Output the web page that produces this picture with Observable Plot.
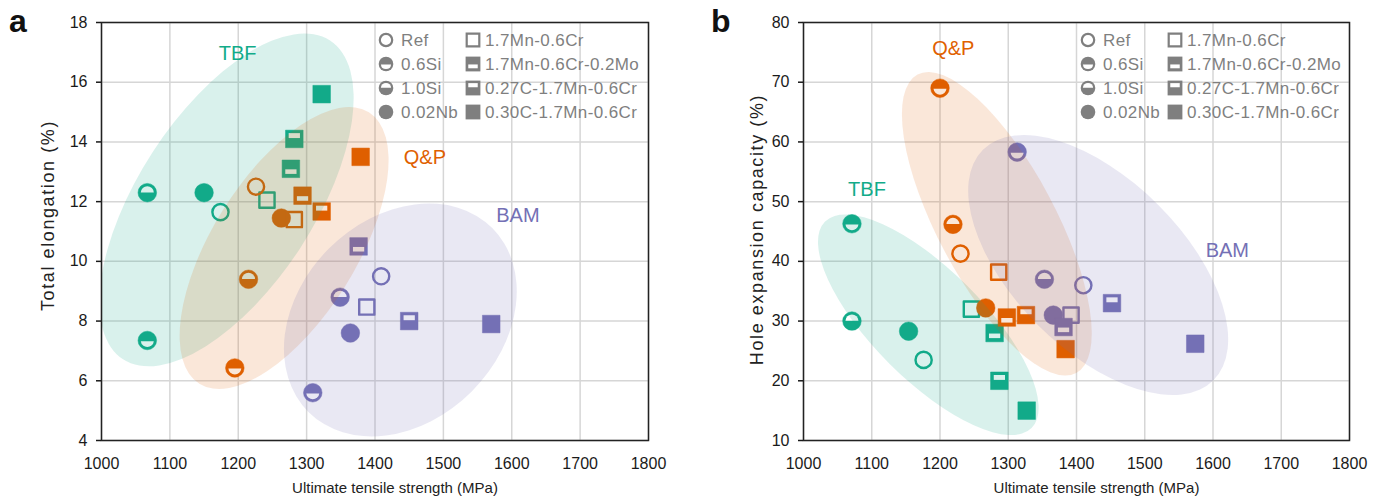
<!DOCTYPE html>
<html><head><meta charset="utf-8">
<script src="https://cdn.jsdelivr.net/npm/d3@7"></script>
<script src="https://cdn.jsdelivr.net/npm/@observablehq/plot@0.6"></script>
<style>
body{margin:0;background:#fff;font-family:"Liberation Sans",Arial,sans-serif;}
#wrap{position:relative;width:1387px;height:504px;display:flex;overflow:hidden;}
#overlay{position:absolute;left:0;top:0;pointer-events:none;}
</style></head><body><div id="wrap"></div>
<script>
// ---------- data ----------
const groups = ["TBF", "Q&P", "BAM"];
const groupColors = ["#12ab89", "#e06000", "#7470b5"];
const markerTypes = ["Ref", "0.6Si", "1.0Si", "0.02Nb", "1.7Mn-0.6Cr", "1.7Mn-0.6Cr-0.2Mo", "0.27C-1.7Mn-0.6Cr", "0.30C-1.7Mn-0.6Cr"];

// panel a: UTS (MPa) vs total elongation (%)
const tbfUtsA = [1174, 1067, 1067, 1150, 1242, 1277, 1282, 1322];
const tbfElA  = [11.65, 7.35, 12.3, 12.3, 12.05, 13.1, 14.1, 15.6];
const qpUtsA  = [1226, 1195, 1215, 1263, 1282, 1294, 1322, 1379];
const qpElA   = [12.5, 6.43, 9.4, 11.45, 11.4, 12.2, 11.67, 13.5];
const bamUtsA = [1409, 1309, 1349, 1364, 1388, 1376, 1450, 1570];
const bamElA  = [9.5, 5.6, 8.8, 7.6, 8.47, 10.5, 8.0, 7.9];

// panel b: UTS (MPa) vs hole expansion capacity (%)
const tbfUtsB = [1176, 1071, 1071, 1154, 1246, 1280, 1287, 1327];
const tbfHecB = [23.5, 46.3, 30, 28.3, 32, 28, 20, 15];
const qpUtsB  = [1230, 1200, 1219, 1267, 1286, 1298, 1326, 1384];
const qpHecB  = [41.3, 69, 46.2, 32.2, 38.2, 30.6, 31, 25.3];
const bamUtsB = [1410, 1313, 1353, 1366, 1392, 1381, 1452, 1574];
const bamHecB = [36, 58.3, 37, 31, 31, 29, 33, 26.2];

// group labels
const labelXA = [1199, 1473, 1609];
const labelYA = [16.96, 13.48, 11.54];
const labelXB = [1093, 1219.5, 1621];
const labelYB = [52, 75.6, 41.8];

// shaded group regions (centre in data units)
const regionCxA = [1183.6, 1267.8, 1437.8];
const regionCyA = [12.04, 10.43, 8.02];
const regionCxB = [1183.6, 1284, 1432.5];
const regionCyB = [29.3, 46.2, 39.3];

// axis ticks
const xTicks = d3.range(1000, 1801, 100);
const yTicksA = d3.range(4, 19, 2);
const yTicksB = d3.range(10, 81, 10);

// ---------- shapes / styles ----------
const regionShapeA = {rx: [190, 160, 130], ry: [88, 72, 101], rot: [-57, -58, -45]};
const regionShapeB = {rx: [146, 169, 163], ry: [55, 59, 85], rot: [45, 62, 45]};

const circSym = {draw(ctx, size) {const r = Math.sqrt(size / Math.PI); ctx.moveTo(r, 0); ctx.arc(0, 0, r, 0, 2 * Math.PI); ctx.closePath();}};
const sqSym = {draw(ctx, size) {const r = Math.sqrt(size / Math.PI); ctx.rect(-r, -r, 2 * r, 2 * r);}};
const circInsBottom = {draw(ctx, size) {const R = Math.sqrt(size / Math.PI), ri = R * 0.7, e = R * 0.07, a = Math.asin(e / ri);
  ctx.moveTo(ri * Math.cos(a), e); ctx.arc(0, 0, ri, a, Math.PI - a); ctx.closePath();}};
const circInsTop = {draw(ctx, size) {const R = Math.sqrt(size / Math.PI), ri = R * 0.7, e = R * 0.03, a = Math.asin(e / ri);
  ctx.moveTo(-ri * Math.cos(a), -e); ctx.arc(0, 0, ri, Math.PI + a, 2 * Math.PI - a); ctx.closePath();}};
const sqInsBottom = {draw(ctx, size) {const R = Math.sqrt(size / Math.PI); ctx.rect(-0.64 * R, 0.06 * R, 1.28 * R, 0.52 * R);}};
const sqInsTop = {draw(ctx, size) {const R = Math.sqrt(size / Math.PI); ctx.rect(-0.64 * R, -0.66 * R, 1.28 * R, 0.56 * R);}};

function styleOf(i) {
  const shape = i < 4 ? "circle" : "square";
  const k = i % 4;
  return {shape, ring: k === 0, insert: k === 1 ? "bottom" : k === 2 ? "top" : null};
}

function rows(uts, vals, group) {
  return markerTypes.map((type, i) => ({group, type, ti: i, x: uts[i], y: vals[i]}));
}
const dataA = [...rows(tbfUtsA, tbfElA, "TBF"), ...rows(qpUtsA, qpElA, "Q&P"), ...rows(bamUtsA, bamElA, "BAM")];
const dataB = [...rows(tbfUtsB, tbfHecB, "TBF"), ...rows(qpUtsB, qpHecB, "Q&P"), ...rows(bamUtsB, bamHecB, "BAM")];
const labelsA = groups.map((g, i) => ({group: g, x: labelXA[i], y: labelYA[i]}));
const labelsB = groups.map((g, i) => ({group: g, x: labelXB[i], y: labelYB[i]}));
const regionsA = groups.map((g, i) => ({group: g, cx: regionCxA[i], cy: regionCyA[i], rx: regionShapeA.rx[i], ry: regionShapeA.ry[i], rot: regionShapeA.rot[i]}));
const regionsB = groups.map((g, i) => ({group: g, cx: regionCxB[i], cy: regionCyB[i], rx: regionShapeB.rx[i], ry: regionShapeB.ry[i], rot: regionShapeB.rot[i]}));

const colorOf = g => groupColors[groups.indexOf(g)];

function markerMarks(records) {
  const marks = [];
  for (const g of groups) {
    for (let i = 0; i < markerTypes.length; i++) {
      const d = records.filter(r => r.group === g && r.ti === i);
      if (!d.length) continue;
      const st = styleOf(i);
      const circ = st.shape === "circle";
      const sym = circ ? circSym : sqSym;
      if (st.ring) {
        marks.push(Plot.dot(d, {x: "x", y: "y", symbol: sym, r: circ ? 8.1 : 7.6, stroke: "group", strokeWidth: 2.4, fill: "none", strokeLinejoin: "round"}));
      } else {
        marks.push(Plot.dot(d, {x: "x", y: "y", symbol: sym, r: circ ? 9.3 : 8.8, fill: "group", stroke: "group", strokeWidth: 0.5, strokeLinejoin: "round"}));
        if (st.insert) {
          const ins = circ ? (st.insert === "bottom" ? circInsBottom : circInsTop) : (st.insert === "bottom" ? sqInsBottom : sqInsTop);
          marks.push(Plot.dot(d, {x: "x", y: "y", symbol: ins, r: circ ? 9.3 : 8.8, fill: "white"}));
        }
      }
    }
  }
  return marks;
}

function regionMark(list) {
  return (index, scales, values, dims) => {
    const g = d3.create("svg:g");
    const id = "clip" + Math.random().toString(36).slice(2);
    g.append("clipPath").attr("id", id).append("rect")
      .attr("x", dims.marginLeft).attr("y", dims.marginTop)
      .attr("width", dims.width - dims.marginLeft - dims.marginRight)
      .attr("height", dims.height - dims.marginTop - dims.marginBottom);
    const inner = g.append("g").attr("clip-path", `url(#${id})`);
    for (const e of list) {
      inner.append("ellipse").attr("rx", e.rx).attr("ry", e.ry)
        .attr("transform", `translate(${scales.x(e.cx)},${scales.y(e.cy)}) rotate(${e.rot})`)
        .attr("fill", colorOf(e.group)).attr("fill-opacity", e.group === "Q&P" ? 0.15 : 0.16);
    }
    return g.node();
  };
}

function panel({data, regions, labels, yDomain, yTicks, yTitle, width, marginRight, yTitleDx, yTitleDy}) {
  return Plot.plot({
    width, height: 504,
    marginLeft: 101, marginRight, marginTop: 22, marginBottom: 64,
    style: {fontFamily: "Liberation Sans, Arial, sans-serif", fontSize: "16px", color: "#1a1a1a", background: "white"},
    x: {domain: [1000, 1800]},
    y: {domain: yDomain},
    color: {domain: groups, range: groupColors},
    marks: [
      Plot.gridX({ticks: xTicks, stroke: "#d6d6d6", strokeOpacity: 1, strokeWidth: 1.5}),
      Plot.gridY({ticks: yTicks, stroke: "#d6d6d6", strokeOpacity: 1, strokeWidth: 1.5}),
      ...markerMarks(data),
      regionMark(regions),
      Plot.text(labels, {x: "x", y: "y", text: "group", fill: "group", fontSize: 20}),
      Plot.frame({stroke: "#222", strokeWidth: 1.5}),
      Plot.axisX({ticks: xTicks, tickSize: 0, tickPadding: 17, tickFormat: d => String(d), label: null}),
      Plot.axisY({ticks: yTicks, tickSize: 5, tickPadding: 9, tickFormat: d => String(d), label: null, strokeWidth: 1.5}),
      Plot.text(["Ultimate tensile strength (MPa)"], {text: d => d, frameAnchor: "bottom", dy: 52, dx: 20, fontSize: 15, fill: "#222"}),
      Plot.text([yTitle], {text: d => d, frameAnchor: "left", textAnchor: "middle", dx: yTitleDx, dy: yTitleDy, rotate: -90, fontSize: 18, fill: "#222"})
    ]
  });
}

const wrap = document.getElementById("wrap");
wrap.append(panel({data: dataA, regions: regionsA, labels: labelsA, yDomain: [4, 18], yTicks: yTicksA, yTitle: "Total elongation (%)", width: 702, marginRight: 54, yTitleDx: -53, yTitleDy: -16}));
wrap.append(panel({data: dataB, regions: regionsB, labels: labelsB, yDomain: [10, 80], yTicks: yTicksB, yTitle: "Hole expansion capacity (%)", width: 685, marginRight: 38, yTitleDx: -46, yTitleDy: -2}));

// letter-spacing on y titles (applied after render)
d3.select(wrap).selectAll("svg text").filter(function() {return /elongation|expansion/.test(this.textContent);}).attr("letter-spacing", 1.6);

// ---------- overlay: panel letters and legends ----------
const ov = d3.select(wrap).append("svg").attr("id", "overlay").attr("width", 1387).attr("height", 504)
  .style("font-family", "Liberation Sans, Arial, sans-serif");
const panelOffsets = [0, 702];
const panelLetters = ["a", "b"];
const legendGray = "#7f7f7f";
function symPath(sym, r) {const p = d3.path(); sym.draw(p, Math.PI * r * r); return p.toString();}
panelOffsets.forEach((off, pi) => {
  ov.append("text").attr("x", off + 9).attr("y", 32).attr("font-size", 32).attr("font-weight", "bold").attr("fill", "#111").text(panelLetters[pi]);
  markerTypes.forEach((t, i) => {
    const st = styleOf(i);
    const col = i < 4 ? 0 : 1;
    const row = i % 4;
    const cx = off + (col === 0 ? 386 : 473);
    const cy = 40 + 24 * row;
    const g = ov.append("g").attr("transform", `translate(${cx},${cy})`);
    const circ = st.shape === "circle";
    const sym = circ ? circSym : sqSym;
    if (st.ring) {
      g.append("path").attr("d", symPath(sym, circ ? 6.2 : 6.3)).attr("fill", "none").attr("stroke", legendGray).attr("stroke-width", 2.2);
    } else {
      g.append("path").attr("d", symPath(sym, circ ? 7.3 : 7.4)).attr("fill", legendGray);
      if (st.insert) {
        const ins = circ ? (st.insert === "bottom" ? circInsBottom : circInsTop) : (st.insert === "bottom" ? sqInsBottom : sqInsTop);
        g.append("path").attr("d", symPath(ins, circ ? 7.3 : 7.4)).attr("fill", "white");
      }
    }
    ov.append("text").attr("x", cx + (col === 0 ? 15 : 12)).attr("y", cy).attr("dy", "0.36em")
      .attr("font-size", 17).attr("letter-spacing", 0.4).attr("fill", legendGray).text(t);
  });
});
</script>
</body></html>
